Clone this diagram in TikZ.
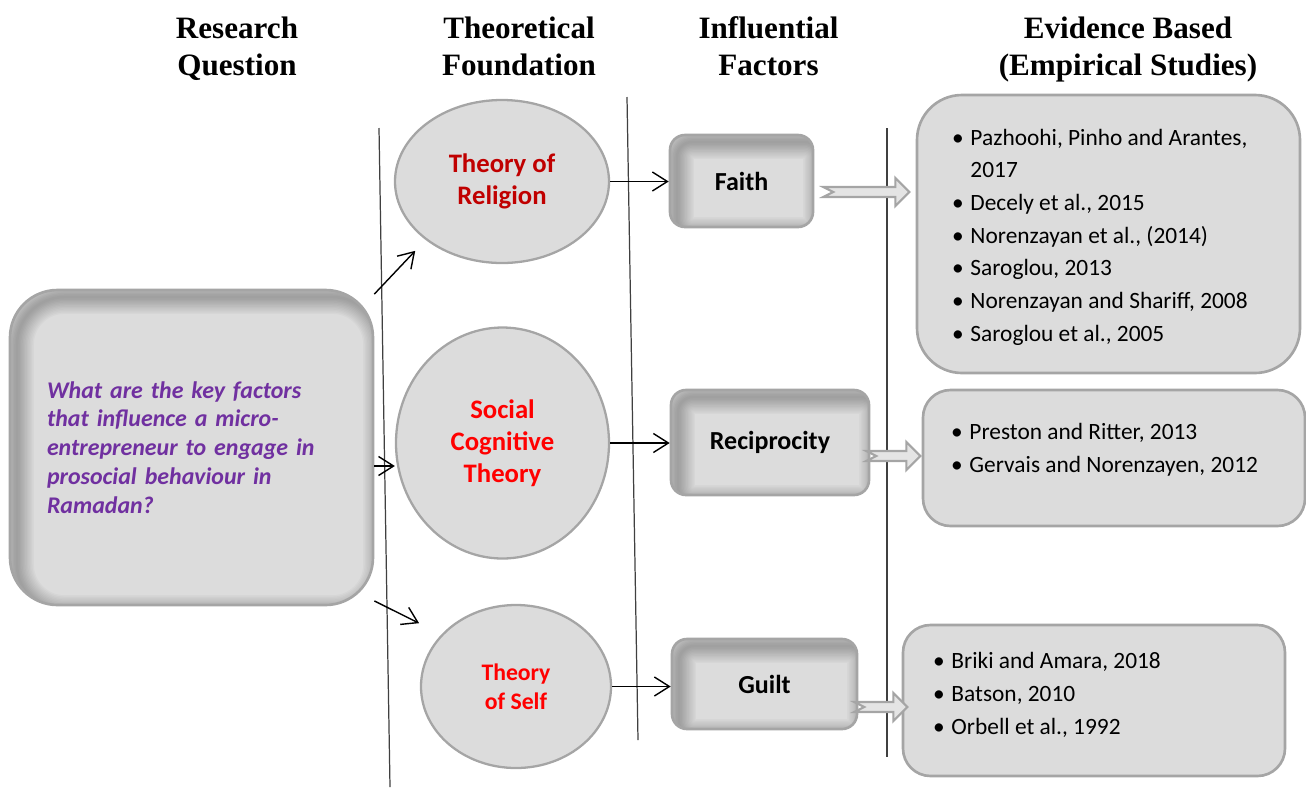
\documentclass[tikz,border=0pt]{standalone}
\usepackage{fontspec}
\setmainfont{Carlito}
\newfontfamily\headfont{Liberation Serif}
\usetikzlibrary{positioning, arrows.meta, shapes.geometric, calc}
\definecolor{boxGray}{HTML}{DCDCDC}
\definecolor{lineGray}{HTML}{A5A5A5}
\definecolor{qPurple}{HTML}{7030A0}
\definecolor{darkRed}{HTML}{C00000}
\definecolor{brightRed}{HTML}{FF0000}
\definecolor{arrFill}{HTML}{E4E4E4}
\newcommand{\bitem}{\makebox[10.5pt][l]{\textbullet}}

\begin{document}
\begin{tikzpicture}[
  head/.style={font=\headfont\bfseries\fontsize{17.7}{21}\selectfont,
               align=center, anchor=south, text depth=0pt, inner sep=0pt},
  inset/.style={path picture={
      \foreach \w in {1,...,12}
        \draw[line width=1.6*\w pt, black, opacity=0.022, rounded corners=#1]
          ([shift={(4pt,-4pt)}]path picture bounding box.south west)
          rectangle ([shift={(4pt,-4pt)}]path picture bounding box.north east);}},
  qbox/.style={draw=lineGray, line width=1.5pt, fill=boxGray,
               rounded corners=0.95cm, inset=0.95cm, minimum height=6.30cm,
               text width=5.78cm, inner xsep=0.74cm, align=left, text=qPurple,
               font=\bfseries\itshape\fontsize{13.6}{16.4}\selectfont},
  theory/.style={ellipse, draw=lineGray, line width=1.3pt, fill=boxGray,
                 inner sep=0pt, align=center,
                 font=\bfseries\fontsize{15.2}{18.3}\selectfont},
  factor/.style={draw=lineGray, line width=1.5pt, fill=boxGray,
                 rounded corners=0.3cm, inset=0.3cm,
                 font=\bfseries\fontsize{14.8}{17}\selectfont},
  evbox/.style={draw=lineGray, line width=1.5pt, fill=boxGray, inner sep=0pt},
  reflist/.style={anchor=west, inner sep=0pt, align=left,
                  font=\fontsize{13.3}{18.6}\selectfont},
  arr/.style={-{Straight Barb[length=0.3cm, width=0.38cm]}, line width=0.8pt},
  divider/.style={draw=black!75, line width=0.7pt},
  fatline/.style={draw=lineGray, fill=arrFill, line width=1.2pt},
  fatarr/.pic={
    \draw[fatline] (0,0.1) -- (#1-0.28,0.1) -- (#1-0.28,0.28) -- (#1,0)
      -- (#1-0.28,-0.28) -- (#1-0.28,-0.1) -- (0,-0.1) -- (0.2,0) -- cycle;},
]
  \useasboundingbox (0,0) rectangle (26.12,-15.78);

  % column titles
  \node[head] (hrq) at (4.74,-1.52) {Research\\Question};
  \node[head] (htf) at (10.38,-1.52) {Theoretical\\Foundation};
  \node[head] (hif) at (15.37,-1.52) {Influential\\Factors};
  \node[head] (hev) at (22.56,-1.52) {Evidence Based\\(Empirical Studies)};

  % column dividers
  \draw[divider] (7.58,-2.56) -- (7.80,-15.74);
  \draw[divider] (12.54,-1.94) -- (12.76,-14.80);
  \draw[divider] (17.74,-2.56) -- (17.74,-15.14);

  % research question
  \node[qbox] (q) at (3.83,-8.95) {What are the key factors\\that influence a micro-\\entrepreneur to engage in\\prosocial behaviour in\\Ramadan?};

  % theories
  \node[theory, text=darkRed, minimum width=4.28cm, minimum height=3.26cm]
    (e1) at (10.04,-3.63) {Theory of\\Religion};
  \node[theory, text=brightRed, minimum width=4.26cm, minimum height=4.62cm]
    (e2) at (10.05,-8.86) {Social\\Cognitive\\Theory};
  \node[theory, text=brightRed, minimum width=3.80cm, minimum height=3.26cm,
        font=\bfseries\fontsize{13.5}{16.4}\selectfont]
    (e3) at (10.32,-13.73) {Theory\\of Self};

  % factors
  \node[factor, minimum width=2.86cm, minimum height=1.84cm] (faith) at (14.83,-3.62) {Faith};
  \node[factor, minimum width=3.96cm, minimum height=2.10cm] (rec) at (15.40,-8.85) {Reciprocity};
  \node[factor, minimum width=3.70cm, minimum height=1.80cm] (guilt) at (15.29,-13.68) {Guilt};

  % evidence
  \node[evbox, rounded corners=0.9cm, minimum width=7.66cm, minimum height=5.56cm] (ev1) at (22.17,-4.68) {};
  \node[evbox, rounded corners=0.55cm, minimum width=7.64cm, minimum height=2.72cm] (ev2) at (22.28,-9.16) {};
  \node[evbox, rounded corners=0.55cm, minimum width=7.64cm, minimum height=3.02cm] (ev3) at (21.88,-14.01) {};

  \node[reflist] (l1) at ([xshift=0.72cm, yshift=-0.06cm]ev1.west) {%
    \bitem Pazhoohi, Pinho and Arantes,\\
    \hspace*{10.5pt}2017\\
    \bitem Decely et al., 2015\\
    \bitem Norenzayan et al., (2014)\\
    \bitem Saroglou, 2013\\
    \bitem Norenzayan and Shariff, 2008\\
    \bitem Saroglou et al., 2005};
  \node[reflist] (l2) at ([xshift=0.58cm, yshift=0.16cm]ev2.west) {%
    \bitem Preston and Ritter, 2013\\
    \bitem Gervais and Norenzayen, 2012};
  \node[reflist] (l3) at ([xshift=0.62cm, yshift=0.11cm]ev3.west) {%
    \bitem Briki and Amara, 2018\\
    \bitem Batson, 2010\\
    \bitem Orbell et al., 1992};

  % connectors
  \coordinate (qm) at ([yshift=-0.37cm]q.east);
  \draw[arr, shorten >=0.3cm] (q.40) -- (e1.south west);
  \draw[arr] (qm) -- (qm -| e2.west);
  \draw[arr, shorten >=0.5cm] (q.-40) -- (e3.145);
  \draw[arr] (e1.east) -- (e1.east -| faith.west);
  \draw[arr] (e2.east) -- (e2.east -| rec.west);
  \draw[arr] (e3.east) -- (e3.east -| guilt.west);

  \pic at ([xshift=0.18cm, yshift=-0.22cm]faith.east) {fatarr=1.72};
  \pic at ([xshift=-0.08cm, yshift=-0.27cm]rec.east) {fatarr=1.08};
  \pic at ([xshift=-0.08cm, yshift=-0.46cm]guilt.east) {fatarr=1.06};
\end{tikzpicture}
\end{document}
